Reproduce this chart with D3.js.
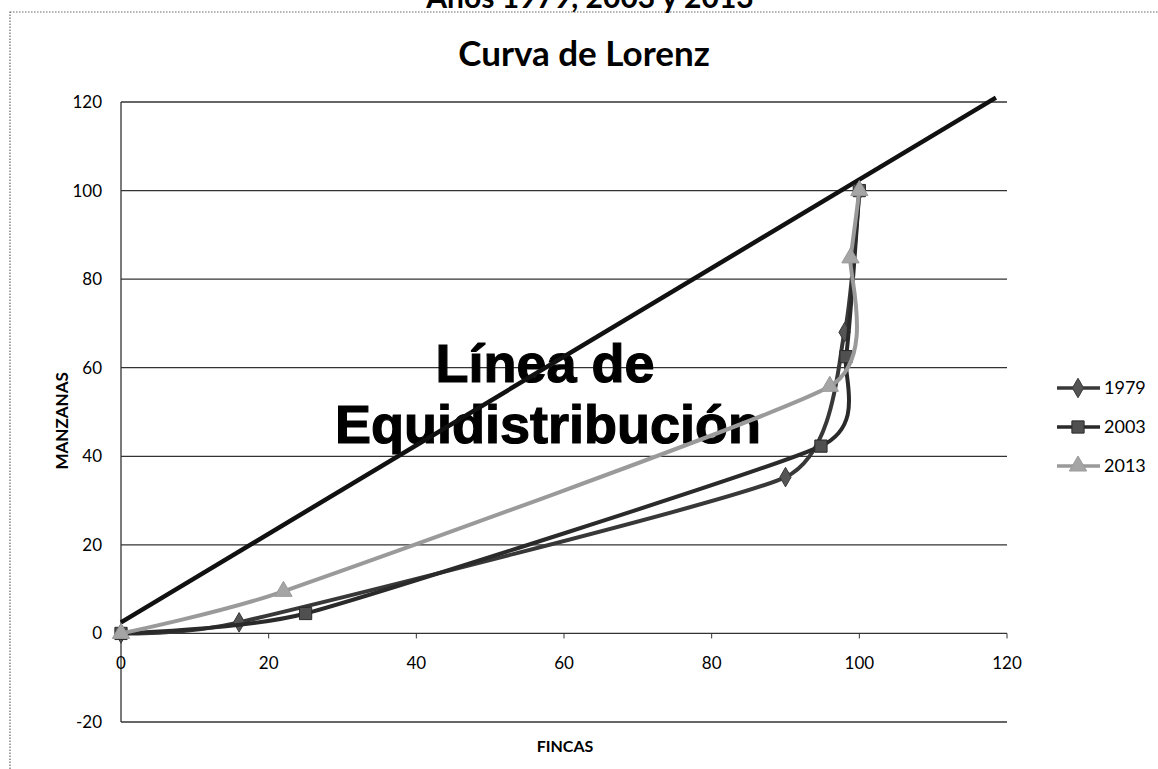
<!DOCTYPE html>
<html>
<head>
<meta charset="utf-8">
<script src="https://cdn.jsdelivr.net/npm/d3@7"></script>
<style>
  body { margin: 0; background: #fff; }
  svg { display: block; font-family: Lato, "Open Sans", sans-serif; }
</style>
</head>
<body>
<div id="chart"></div>
<script>
// datos
const years = ['1979', '2003', '2013'];
const fincas1979 = [0, 16, 90, 98, 100];
const manzanas1979 = [0, 2.5, 35.3, 68, 100];
const fincas2003 = [0, 25, 94.8, 98.2, 100];
const manzanas2003 = [0, 4.5, 42.3, 62.5, 100];
const fincas2013 = [0, 22, 96, 98.8, 100];
const manzanas2013 = [0, 9.5, 55.8, 84.8, 100];
const equiX = [0, 118.5];
const equiY = [2.5, 121];
const xTicks = [0, 20, 40, 60, 80, 100, 120];
const yTicks = [-20, 0, 20, 40, 60, 80, 100, 120];

const width = 1158, height = 769;
const margin = { left: 121, right: 151, top: 102, bottom: 47 };

const svg = d3.select('#chart').append('svg')
  .attr('width', width).attr('height', height);

// marco punteado del gráfico
svg.append('rect')
  .attr('x', 10).attr('y', 12).attr('width', 1200).attr('height', 800)
  .attr('fill', 'none').attr('stroke', '#666')
  .attr('stroke-width', 1.2).attr('stroke-dasharray', '1.5,1.5');

// título cortado arriba
svg.append('text')
  .attr('x', 590).attr('y', 8)
  .attr('text-anchor', 'middle')
  .style('font-size', '30px').style('font-weight', 'bold')
  .text('Años 1979, 2003 y 2013');

svg.append('text')
  .attr('x', 584).attr('y', 66)
  .attr('text-anchor', 'middle')
  .style('font-size', '35px').style('font-weight', 'bold')
  .text('Curva de Lorenz');

const x = d3.scaleLinear().domain([0, 120])
  .range([margin.left, width - margin.right]);
const y = d3.scaleLinear().domain([-20, 120])
  .range([height - margin.bottom, margin.top]);

// líneas de cuadrícula
svg.append('g')
  .selectAll('line')
  .data(yTicks)
  .join('line')
  .attr('x1', x(0)).attr('x2', x(120))
  .attr('y1', (d) => y(d)).attr('y2', (d) => y(d))
  .attr('stroke', '#333').attr('stroke-width', 1.3);

// eje vertical
svg.append('line')
  .attr('x1', x(0)).attr('x2', x(0))
  .attr('y1', y(120)).attr('y2', y(-20))
  .attr('stroke', '#333').attr('stroke-width', 1.3);

// etiquetas del eje Y
svg.append('g')
  .selectAll('text')
  .data(yTicks)
  .join('text')
  .attr('x', x(0) - 19)
  .attr('y', (d) => y(d))
  .attr('dy', '0.35em')
  .attr('text-anchor', 'end')
  .style('font-size', '17px')
  .text((d) => d);

// etiquetas del eje X
svg.append('g')
  .selectAll('text')
  .data(xTicks)
  .join('text')
  .attr('x', (d) => x(d))
  .attr('y', y(0) + 36)
  .attr('text-anchor', 'middle')
  .style('font-size', '17px')
  .text((d) => d);

// marcas en el eje X
svg.append('g')
  .selectAll('line')
  .data(xTicks)
  .join('line')
  .attr('x1', (d) => x(d)).attr('x2', (d) => x(d))
  .attr('y1', y(0)).attr('y2', y(0) + 5)
  .attr('stroke', '#333');

svg.append('text')
  .attr('transform', `translate(68, ${y(48)}) rotate(-90)`)
  .attr('text-anchor', 'middle')
  .style('font-size', '17px').style('font-weight', 'bold')
  .text('MANZANAS');

svg.append('text')
  .attr('x', 565).attr('y', 752)
  .attr('text-anchor', 'middle')
  .style('font-size', '16px').style('font-weight', 'bold')
  .text('FINCAS');

// texto grande
const big = svg.append('text')
  .attr('text-anchor', 'middle')
  .style('font-family', '"Liberation Sans", Arial, sans-serif')
  .style('font-size', '54px').style('font-weight', 'bold')
  .attr('stroke', '#000').attr('stroke-width', 1.2);
big.append('tspan').attr('x', 545).attr('y', 382).text('Línea de');
big.append('tspan').attr('x', 548).attr('y', 443).text('Equidistribución');

// línea de equidistribución
const equi = equiX.map((d, i) => [d, equiY[i]]);
svg.append('path')
  .attr('d', d3.line().x((d) => x(d[0])).y((d) => y(d[1]))(equi))
  .attr('fill', 'none').attr('stroke', '#111').attr('stroke-width', 4.5);

const series = [
  { name: years[0], xs: fincas1979, ys: manzanas1979, color: '#383838', fill: '#555', symbol: d3.symbolDiamond, size: 110 },
  { name: years[1], xs: fincas2003, ys: manzanas2003, color: '#2a2a2a', fill: '#505050', symbol: d3.symbolSquare, size: 150 },
  { name: years[2], xs: fincas2013, ys: manzanas2013, color: '#9a9a9a', fill: '#a5a5a5', symbol: d3.symbolTriangle, size: 130 },
];

// suavizado parecido al de Excel
const line = d3.line()
  .x((d) => x(d[0])).y((d) => y(d[1]))
  .curve(d3.curveCardinal.tension(0.5));

series.forEach((s) => {
  const pts = s.xs.map((d, i) => [d, s.ys[i]]);
  const g = svg.append('g');
  g.append('path')
    .attr('d', line(pts))
    .attr('fill', 'none').attr('stroke', s.color).attr('stroke-width', 4);
  g.selectAll('path.m')
    .data(pts)
    .join('path')
    .attr('class', 'm')
    .attr('transform', (d) => `translate(${x(d[0])},${y(d[1])})`)
    .attr('d', d3.symbol().type(s.symbol).size(s.size))
    .attr('fill', s.fill).attr('stroke', s.color).attr('stroke-width', 1);
});

// leyenda
const legend = svg.append('g');
series.forEach((s, i) => {
  const ly = 388 + i * 39;
  legend.append('line')
    .attr('x1', 1057).attr('x2', 1100).attr('y1', ly).attr('y2', ly)
    .attr('stroke', s.color).attr('stroke-width', 3.5);
  legend.append('path')
    .attr('transform', `translate(1078,${ly})`)
    .attr('d', d3.symbol().type(s.symbol).size(s.size))
    .attr('fill', s.fill).attr('stroke', s.color);
  legend.append('text')
    .attr('x', 1104).attr('y', ly).attr('dy', '0.35em')
    .style('font-size', '18px')
    .text(s.name);
});
</script>
</body>
</html>
